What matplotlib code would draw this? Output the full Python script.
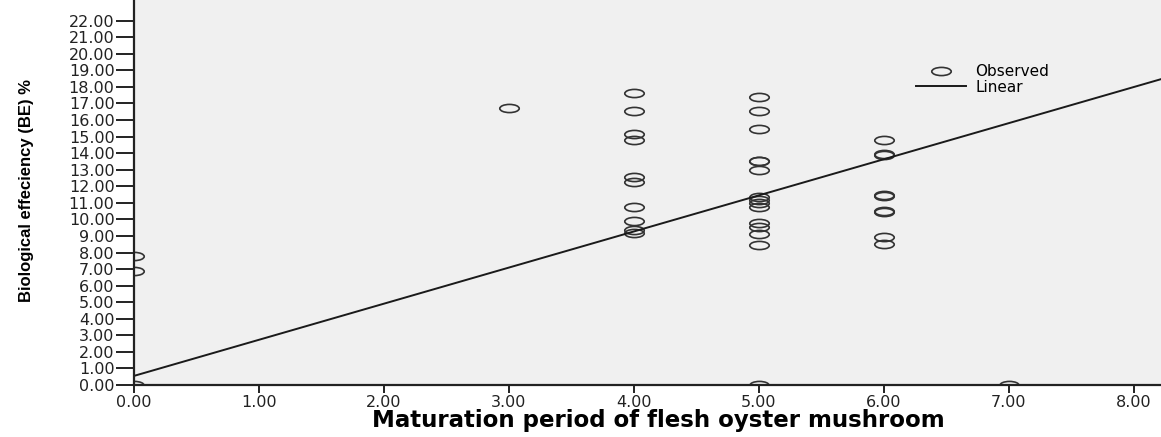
import numpy as np
import matplotlib
matplotlib.use("Agg")
import matplotlib.pyplot as plt
from matplotlib.path import Path
from matplotlib.transforms import Affine2D

# observed points (x = maturation period, y = BE %)
x_obs = [0, 0, 0,
         3,
         4, 4, 4, 4, 4, 4, 4, 4, 4, 4,
         5, 5, 5, 5, 5, 5, 5, 5, 5, 5, 5, 5, 5, 5, 5,
         6, 6, 6, 6, 6, 6, 6, 6, 6,
         7]
y_obs = [7.8, 6.9, 0.0,
         16.7,
         17.65, 16.55, 15.16, 14.8, 12.58, 12.24, 10.77, 9.92, 9.36, 9.16,
         17.37, 16.55, 15.44, 13.55, 13.5, 12.98, 11.37, 11.17, 10.97, 10.73,
         9.76, 9.56, 9.12, 8.45, 0.0,
         14.8, 13.95, 13.9, 11.45, 11.4, 10.5, 10.45, 8.96, 8.5,
         0.0]

# fitted linear line (intercept, slope)
fit_b0 = 0.55
fit_b1 = 2.18

x_ticks = [0, 1, 2, 3, 4, 5, 6, 7, 8]
y_ticks = list(range(0, 23))

fig = plt.figure(figsize=(11.61, 4.37), dpi=100)
ax = fig.add_axes([134 / 1161, 52 / 437, 1027 / 1161, 385 / 437])
ax.set_facecolor("#f0f0f0")

# SPSS style flattened circle marker
ellipse = Path.unit_circle().transformed(Affine2D().scale(1.0, 0.42))

ax.plot(x_obs, y_obs, linestyle="none", marker=ellipse, markersize=14,
        markerfacecolor="none", markeredgecolor="#333333", markeredgewidth=1.2,
        label="Observed", zorder=3)

xl = np.array([0, 8.22])
ax.plot(xl, fit_b0 + fit_b1 * xl, color="#1a1a1a", linewidth=1.4,
        label="Linear", zorder=4)

ax.set_xlim(0, 8.22)
ax.set_ylim(0, 23.25)
ax.set_xticks(x_ticks)
ax.set_yticks(y_ticks)
ax.set_xticklabels(["%.2f" % v for v in x_ticks])
ax.set_yticklabels(["%.2f" % v for v in y_ticks])

for s in ["top", "right"]:
    ax.spines[s].set_visible(False)
for s in ["left", "bottom"]:
    ax.spines[s].set_linewidth(1.6)
    ax.spines[s].set_color("#222222")
    ax.spines[s].set_zorder(5)

ax.tick_params(axis="y", length=13, width=1.4, pad=1, labelsize=11.5,
               colors="#222222")
ax.tick_params(axis="x", length=6, width=1.4, pad=1, labelsize=11.5,
               colors="#222222")

ax.set_xlabel("Maturation period of flesh oyster mushroom",
              fontsize=16.5, fontweight="bold", va="center")
ax.xaxis.set_label_coords((658 - 134) / 1027, (385 - 421) / 385)

ax.set_ylabel("Biological effeciency (BE) %", fontsize=12,
              fontweight="bold", va="center",
              family=["Liberation Sans", "DejaVu Sans"])
ax.yaxis.set_label_coords((27 - 134) / 1027, (385 - 191) / 385)

ax.legend(loc="upper left", bbox_to_anchor=((916 - 134) / 1027, (385 - 64) / 385),
          frameon=False, fontsize=11, handlelength=3.3, handletextpad=0.6,
          labelspacing=0.05, borderpad=0, borderaxespad=0)

fig.savefig("out.png", dpi=100)
